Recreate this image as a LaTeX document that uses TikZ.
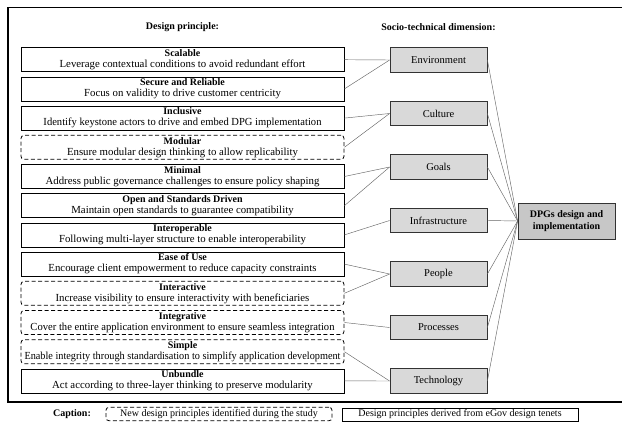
\documentclass[tikz,border=0pt]{standalone}
\usepackage{fontspec}
\usepackage{graphicx}
\setmainfont{Liberation Serif}
\newcommand\prin[2]{{\fontsize{10}{11}\selectfont\bfseries #1}\\{\fontsize{10.8}{12}\selectfont #2}}
\newcommand\sq[2]{\resizebox{#1}{\height}{#2}}
\begin{document}
\begin{tikzpicture}[x=1pt,y=-1pt,
  every node/.style={font=\fontsize{10}{11}\selectfont},
  pbox/.style={draw=black,line width=0.8pt,minimum width=323pt,minimum height=24pt,inner sep=0pt,align=center},
  nbox/.style={pbox,dashed,dash pattern=on 4pt off 2.5pt,rounded corners=3pt},
  dbox/.style={draw=black!80,line width=0.8pt,fill=black!15,minimum width=97pt,minimum height=24.5pt,inner sep=0pt,font=\fontsize{10.5}{12}\selectfont},
  gbox/.style={draw=black!80,line width=0.8pt,fill=black!22,minimum width=97pt,minimum height=36pt,inner sep=0pt,align=center,font=\fontsize{10}{12}\selectfont\bfseries},
  conn/.style={draw=black!60,line width=0.45pt},
  hdr/.style={font=\fontsize{10}{11}\selectfont\bfseries}
]
\useasboundingbox (0,0) rectangle (622,426);
\clip (0,0) rectangle (622,426);
\draw[line width=1.1pt] (630,7.5) -- (8,7.5) -- (8,402) -- (630,402);

\node[hdr] (h1) at (182.5,27) {Design principle:};
\node[hdr] (h2) at (438.5,27) {Socio-technical dimension:};

\node[pbox] (p1) at (182.5,59.7) {\prin{Scalable}{Leverage contextual conditions to avoid redundant effort}};
\node[pbox] (p2) at (182.5,88.9) {\prin{Secure and Reliable}{Focus on validity to drive customer centricity}};
\node[pbox] (p3) at (182.5,118.1) {\prin{Inclusive}{\sq{278pt}{Identify keystone actors to drive and embed DPG implementation}}};
\node[nbox] (p4) at (182.5,147.3) {\prin{Modular}{Ensure modular design thinking to allow replicability}};
\node[pbox] (p5) at (182.5,176.5) {\prin{Minimal}{Address public governance challenges to ensure policy shaping}};
\node[pbox] (p6) at (182.5,205.7) {\prin{Open and Standards Driven}{Maintain open standards to guarantee compatibility}};
\node[pbox] (p7) at (182.5,234.9) {\prin{Interoperable}{Following multi-layer structure to enable interoperability}};
\node[pbox] (p8) at (182.5,264.1) {\prin{Ease of Use}{Encourage client empowerment to reduce capacity constraints}};
\node[nbox] (p9) at (182.5,293.3) {\prin{Interactive}{Increase visibility to ensure interactivity with beneficiaries}};
\node[nbox] (p10) at (182.5,322.5) {\prin{Integrative}{\sq{304pt}{Cover the entire application environment to ensure seamless integration}}};
\node[nbox] (p11) at (182.5,351.7) {\prin{Simple}{\sq{316pt}{Enable integrity through standardisation to simplify application development}}};
\node[pbox] (p12) at (182.5,380.9) {\prin{Unbundle}{Act according to three-layer thinking to preserve modularity}};

\node[dbox] (d1) at (438.5,60) {Environment};
\node[dbox] (d2) at (438.5,113.5) {Culture};
\node[dbox] (d3) at (438.5,167) {Goals};
\node[dbox] (d4) at (438.5,220.5) {Infrastructure};
\node[dbox] (d5) at (438.5,274) {People};
\node[dbox] (d6) at (438.5,327.5) {Processes};
\node[dbox] (d7) at (438.5,381) {Technology};

\node[gbox] (g) at (566.5,221) {DPGs design and\\implementation};

\foreach \p/\d in {p1/d1,p2/d1,p3/d2,p4/d2,p5/d3,p6/d3,p7/d4,p8/d5,p9/d5,p10/d6,p11/d7,p12/d7}
  \draw[conn] (\p.east) -- (\d.west);
\foreach \d in {d1,d2,d3,d4,d5,d6,d7}
  \draw[conn] (\d.east) -- (g.west);

\node[hdr] (cap) at (72,414) {Caption:};
\node[draw=black,dashed,dash pattern=on 4pt off 2.5pt,rounded corners=3pt,line width=0.8pt,minimum width=226pt,minimum height=13.5pt,inner sep=0pt] (l1) at (219,414) {New design principles identified during the study};
\node[draw=black,line width=0.6pt,minimum width=236pt,minimum height=13pt,inner sep=0pt] (l2) at (460,414.5) {Design principles derived from eGov design tenets};
\end{tikzpicture}
\end{document}
